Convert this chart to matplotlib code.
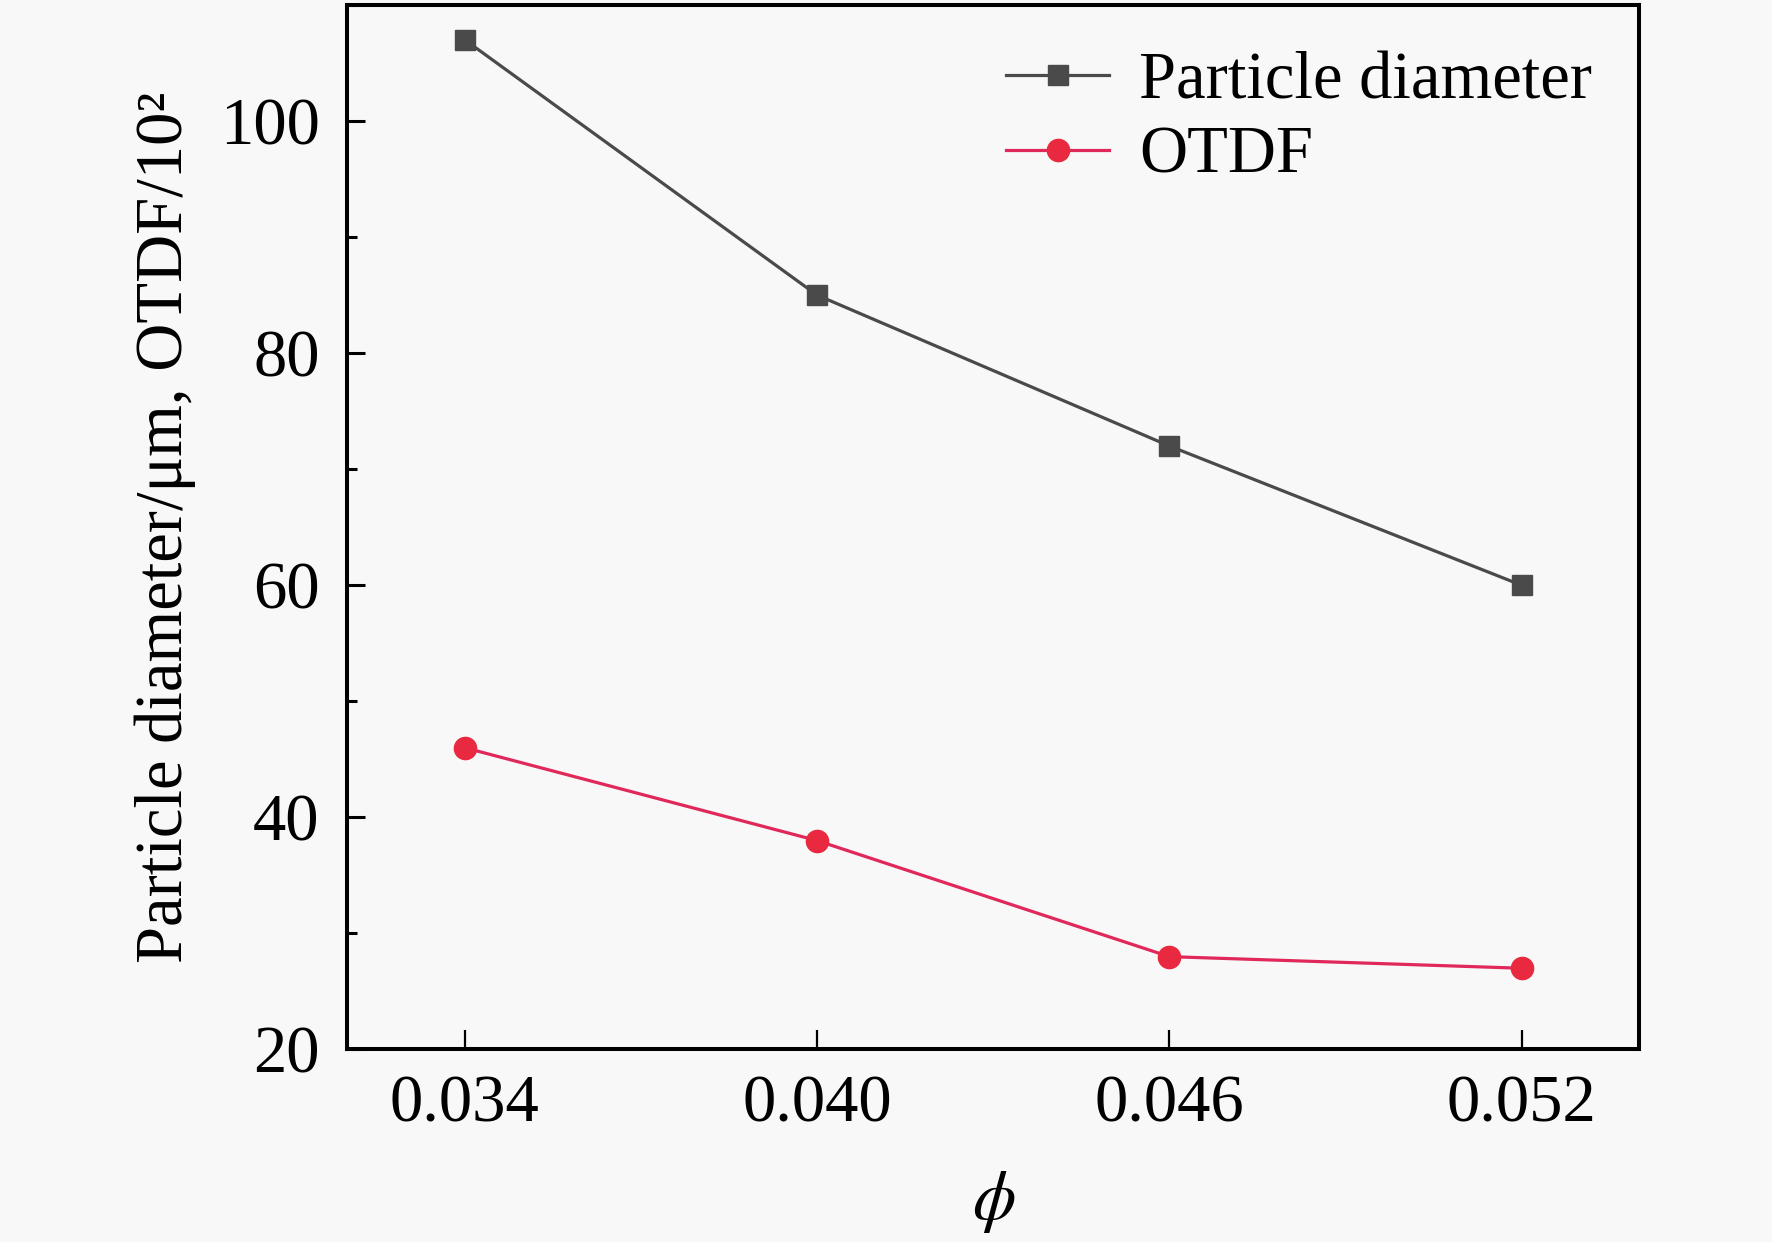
import matplotlib
matplotlib.use('Agg')
import matplotlib.pyplot as plt
from matplotlib.ticker import MultipleLocator

# data
phi = [0.034, 0.040, 0.046, 0.052]
particle_diameter = [107, 85, 72, 60]
otdf = [46, 38, 28, 27]
x_ticks = [0.034, 0.040, 0.046, 0.052]
x_labels = ['0.034', '0.040', '0.046', '0.052']

plt.rcParams['font.family'] = ['Liberation Serif', 'DejaVu Serif']
plt.rcParams['mathtext.fontset'] = 'stix'

bg = '#f8f8f8'
fig = plt.figure(figsize=(17.72, 12.42), dpi=100, facecolor=bg)
ax = fig.add_axes([0.196, 0.155, 0.729, 0.841])
ax.set_facecolor(bg)

ax.plot(phi, particle_diameter, color='#4a4a4a', lw=2.3, marker='s',
        markersize=15, markerfacecolor='#4a4a4a', markeredgecolor='#4a4a4a',
        label='Particle diameter')
ax.plot(phi, otdf, color='#e0285a', lw=2.3, marker='o',
        markersize=16, markerfacecolor='#e8293f', markeredgecolor='#e8293f',
        label='OTDF')

ax.set_xlim(0.032, 0.054)
ax.set_ylim(20, 110)
ax.set_xticks(x_ticks)
ax.set_xticklabels(x_labels)
ax.yaxis.set_major_locator(MultipleLocator(20))
ax.yaxis.set_minor_locator(MultipleLocator(10))

for s in ax.spines.values():
    s.set_linewidth(2.9)

ax.tick_params(axis='both', which='major', direction='in', length=13,
               width=2.2, labelsize=48, pad=18)
ax.tick_params(axis='y', which='minor', direction='in', length=7, width=2.2)
ax.tick_params(axis='x', which='major', length=14, width=1.6)
ax.tick_params(axis='y', which='major', pad=20)

ax.set_ylabel('Particle diameter/\u03bcm, OTDF/10\u00b2', fontsize=48, labelpad=17)
ax.set_xlabel(r'$\phi$', fontsize=50, labelpad=24)

leg = ax.legend(loc='upper right', frameon=False, fontsize=48,
                handlelength=1.55, handletextpad=0.45, labelspacing=0.2,
                borderaxespad=0.3)

fig.savefig('out.png', dpi=100, facecolor=bg)
